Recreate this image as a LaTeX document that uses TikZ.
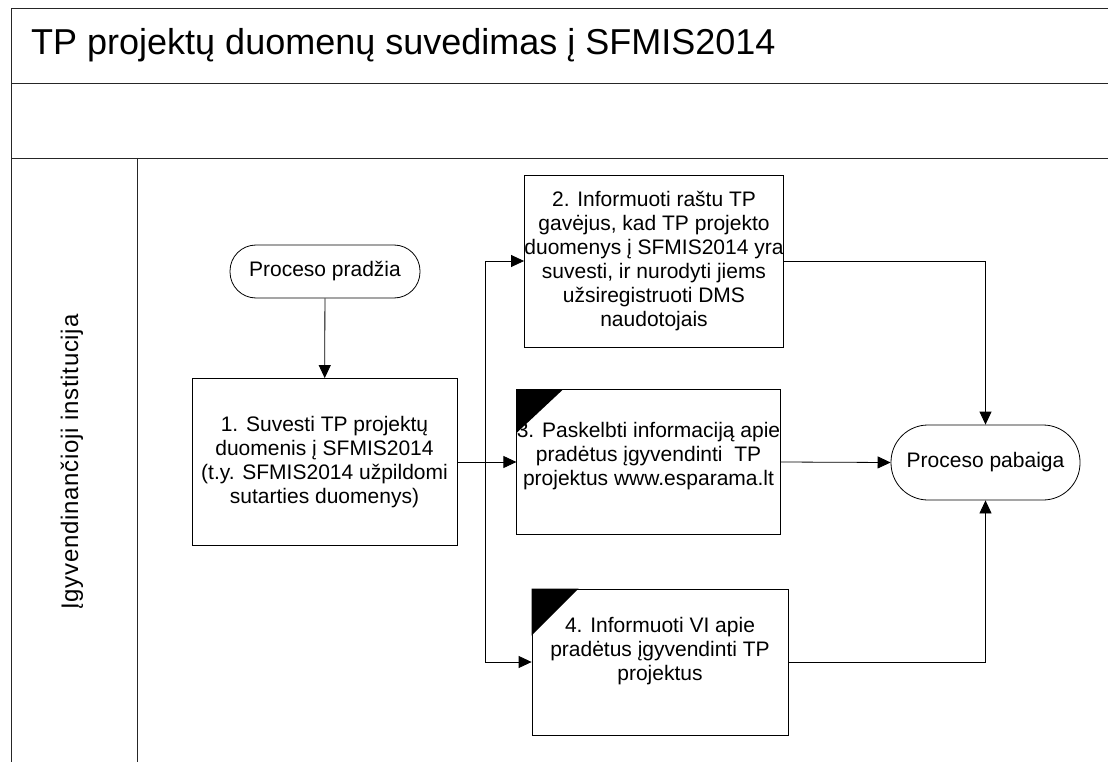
\documentclass[tikz,border=0pt]{standalone}
\usepackage{fontspec}
\setmainfont{Liberation Sans}
\usetikzlibrary{arrows.meta}
\begin{document}
\begin{tikzpicture}[x=1pt,y=-1pt,
  frame/.style={draw=black!85,line width=0.9pt},
  wire/.style={draw=black,line width=0.8pt},
  lnk/.style={wire,-{Triangle[length=13pt,width=12pt]}},
  task/.style={draw=black,line width=0.8pt,fill=white,align=center,
    font=\fontsize{21}{24}\selectfont,inner sep=0pt},
  term/.style={task,rounded corners=#1},
  corner/.style={fill=black}]
\useasboundingbox (0,0) rectangle (1108,762);
% pool frame and lanes
\draw[frame] (1108,8) -- (11,8) -- (11,762);
\draw[frame] (11,83) -- (1108,83);
\draw[frame] (11,158) -- (1108,158);
\draw[frame] (137,158) -- (137,762);
\node[anchor=west,font=\fontsize{36}{40}\selectfont,inner sep=0pt] (title) at (31,45) {TP projektų duomenų suvedimas į SFMIS2014};
\node[rotate=90,font=\fontsize{24}{28}\selectfont\addfontfeature{LetterSpace=3},inner sep=0pt] (lane) at (72,462) {Įgyvendinančioji institucija};
% activities
\node[term=26pt,minimum width=190pt,minimum height=53pt] (start) at (325,271.5) {Proceso pradžia};
\node[task,minimum width=265pt,minimum height=167pt] (b1) at (324.5,462) {1. Suvesti TP projektų\\duomenis į SFMIS2014\\(t.y. SFMIS2014 užpildomi\\sutarties duomenys)};
\node[task,minimum width=256pt,minimum height=172pt] (b2) at (654,261) {2. Informuoti raštu TP\\gavėjus, kad TP projekto\\duomenys į SFMIS2014 yra\\suvesti, ir nurodyti jiems\\užsiregistruoti DMS\\naudotojais};
\node[task,minimum width=255pt,minimum height=145pt,text depth=17pt] (b3) at (648.5,462) {3. Paskelbti informaciją apie\\pradėtus įgyvendinti\ \ TP\\projektus www.esparama.lt};
\node[task,minimum width=256pt,minimum height=146pt,text depth=26pt] (b4) at (660,662) {4. Informuoti VI apie\\pradėtus įgyvendinti TP\\projektus};
\node[term=37pt,minimum width=189pt,minimum height=75pt] (end) at (985.5,462.5) {Proceso pabaiga};
% corner markers
\fill[corner] (b3.north west) -- ++(47,0) -- ++(-47,44) -- cycle;
\fill[corner] (b4.north west) -- ++(47,0) -- ++(-47,47) -- cycle;
% connectors
\coordinate (split) at (485,462);
\draw[lnk] (start) -- (b1);
\draw[lnk] (b1.east) -- (b3.west);
\draw[wire] (split) -- (split |- b2.west);
\draw[wire] (split) -- (split |- b4.west);
\draw[lnk] (split |- b2.west) -- (b2.west);
\draw[lnk] (split |- b4.west) -- (b4.west);
\draw[lnk] (b2.east) -| (end.north);
\draw[lnk] (b3.east) -- (end.west);
\draw[lnk] (b4.east) -| (end.south);
\end{tikzpicture}
\end{document}
